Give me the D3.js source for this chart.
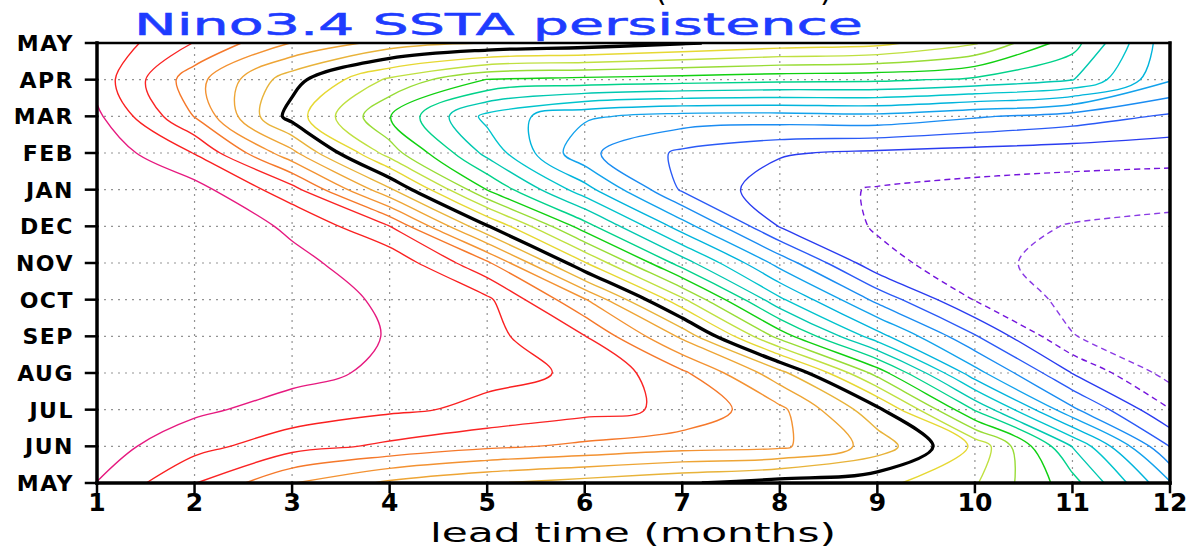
<!DOCTYPE html>
<html>
<head>
<meta charset="utf-8">
<script src="https://cdnjs.cloudflare.com/ajax/libs/d3/7.8.5/d3.min.js"></script>
<style>
  html, body { margin: 0; padding: 0; background: #fff; }
  svg { display: block; }
</style>
</head>
<body>
<svg id="chart" width="1192" height="549"></svg>
<script>
"use strict";

// lead times (x) and start months (y, bottom to top)
const leads = [1, 2, 3, 4, 5, 6, 7, 8, 9, 10, 11, 12];
const monthLabels = ["MAY", "JUN", "JUL", "AUG", "SEP", "OCT", "NOV", "DEC", "JAN", "FEB", "MAR", "APR", "MAY"];

// correlation for each start month, one value per lead time
const corrMayA = [0.849, 0.752, 0.652, 0.59, 0.553, 0.53, 0.505, 0.48, 0.465, 0.405, 0.27, 0.055];
const corrJun = [0.873, 0.817, 0.77, 0.74, 0.71, 0.69, 0.67, 0.66, 0.58, 0.44, 0.198, -0.052];
const corrJul = [0.89, 0.86, 0.83, 0.808, 0.791, 0.766, 0.74, 0.662, 0.515, 0.245, 0.01, -0.148];
const corrAug = [0.89, 0.885, 0.865, 0.84, 0.81, 0.795, 0.71, 0.57, 0.33, 0.069, -0.102, -0.22];
const corrSep = [0.89, 0.885, 0.87, 0.848, 0.815, 0.752, 0.59, 0.33, 0.12, -0.045, -0.198, -0.235];
const corrOct = [0.89, 0.88, 0.865, 0.845, 0.81, 0.655, 0.41, 0.16, -0.015, -0.153, -0.215, -0.24];
const corrNov = [0.885, 0.875, 0.856, 0.837, 0.71, 0.454, 0.225, 0.03, -0.135, -0.176, -0.23, -0.235];
const corrDec = [0.88, 0.868, 0.846, 0.751, 0.505, 0.272, 0.074, -0.103, -0.155, -0.18, -0.203, -0.215];
const corrJan = [0.88, 0.869, 0.77, 0.56, 0.298, 0.12, -0.057, -0.129, -0.154, -0.165, -0.172, -0.176];
const corrFeb = [0.885, 0.798, 0.615, 0.375, 0.185, 0.012, -0.06, -0.095, -0.11, -0.12, -0.127, -0.132];
const corrMar = [0.86, 0.698, 0.478, 0.302, 0.135, 0.058, 0.03, 0.028, 0.035, 0.006, -0.022, -0.058];
const corrApr = [0.83, 0.67, 0.52, 0.39, 0.298, 0.285, 0.275, 0.265, 0.26, 0.24, 0.202, 0.055];
const corrMayB = [0.84, 0.748, 0.648, 0.58, 0.548, 0.53, 0.505, 0.48, 0.465, 0.405, 0.27, 0.065];

const corrRows = [corrMayA, corrJun, corrJul, corrAug, corrSep, corrOct, corrNov,
	corrDec, corrJan, corrFeb, corrMar, corrApr, corrMayB];

// contour levels and their colours
const levels = [0.85, 0.8, 0.75, 0.7, 0.65, 0.6, 0.55, 0.5, 0.45, 0.4, 0.35, 0.3, 0.25,
	0.2, 0.15, 0.1, 0.05, 0, -0.05, -0.1, -0.15, -0.2];
const levelColors = ["#e6197f", "#fa2020", "#fa2424", "#f5782a", "#f39232", "#eea535", "#e8b33a",
	"#000000", "#e6d832", "#bfe040", "#98dc36", "#10d010", "#00d28a", "#00c8b0", "#00c4cc",
	"#00b4dc", "#12a2ec", "#1a8cf2", "#2a5af6", "#2a3cf0", "#7414dc", "#8a3ae4"];
const blackLevel = 0.5;

const svg = d3.select("#chart");

const x = d3.scaleLinear().domain([1, 12]).range([97, 1170]);
const y = d3.scaleLinear().domain([0, 12]).range([483, 43]);

svg.append("defs").append("clipPath").attr("id", "plotClip")
	.append("rect")
	.attr("x", x(1) - 1)
	.attr("y", y(12) - 1)
	.attr("width", x(12) - x(1) + 2)
	.attr("height", y(0) - y(12) + 2);

// dotted grid
let grid = svg.append("g")
	.attr("stroke", "#939393")
	.attr("stroke-width", 1.2)
	.attr("stroke-dasharray", "2,5");
grid.selectAll("line.v").data(leads.slice(1, -1)).join("line")
	.attr("class", "v")
	.attr("x1", d => x(d)).attr("x2", d => x(d))
	.attr("y1", y(0)).attr("y2", y(12));
grid.selectAll("line.h").data(d3.range(1, monthLabels.length - 1)).join("line")
	.attr("class", "h")
	.attr("x1", x(1)).attr("x2", x(12))
	.attr("y1", d => y(d)).attr("y2", d => y(d));

// contours: grid sample i sits at contour coordinate i + 0.5
const values = corrRows.flat();
const contours = d3.contours()
	.size([leads.length, monthLabels.length])
	.thresholds(levels)(values);

const eps = 1e-6;
const inside = p => p[0] >= 1 - eps && p[0] <= 12 + eps && p[1] >= -eps && p[1] <= 12 + eps;

// cut the rings into the open pieces that lie in the plot
function contourRuns(contour) {
	let runs = [];
	for (const polygon of contour.coordinates) {
		for (const ring of polygon) {
			let pts = [];
			for (const [cx, cy] of ring.slice(0, -1)) {
				const p = [cx + 0.5, cy - 0.5];
				const last = pts[pts.length - 1];
				if (!last || Math.abs(last[0] - p[0]) > eps || Math.abs(last[1] - p[1]) > eps) {
					pts.push(p);
				}
			}
			const start = pts.findIndex(p => !inside(p));
			if (start < 0) {
				runs.push({value: contour.value, pts: pts, closed: true});
				continue;
			}
			let cur = [];
			for (let k = 1; k <= pts.length; k++) {
				const p = pts[(start + k) % pts.length];
				if (inside(p)) {
					cur.push(p);
				} else if (cur.length) {
					if (cur.length > 1) runs.push({value: contour.value, pts: cur, closed: false});
					cur = [];
				}
			}
			if (cur.length > 1) runs.push({value: contour.value, pts: cur, closed: false});
		}
	}
	return runs;
}

const openLine = d3.line().x(p => x(p[0])).y(p => y(p[1])).curve(d3.curveCatmullRom.alpha(0.5));
const closedLine = d3.line().x(p => x(p[0])).y(p => y(p[1])).curve(d3.curveCatmullRomClosed.alpha(0.5));
const runPath = r => (r.closed ? closedLine : openLine)(r.pts);

const allRuns = contours.flatMap(contourRuns);

let lines = svg.append("g").attr("clip-path", "url(#plotClip)").attr("fill", "none")
	.attr("stroke-linejoin", "round");
lines.selectAll("path.c").data(allRuns.filter(r => r.value !== blackLevel)).join("path")
	.attr("class", "c")
	.attr("d", runPath)
	.attr("stroke", r => levelColors[levels.indexOf(r.value)])
	.attr("stroke-width", 1.4)
	.attr("stroke-dasharray", r => r.value < -0.12 ? "6,4" : null);
lines.selectAll("path.k").data(allRuns.filter(r => r.value === blackLevel)).join("path")
	.attr("class", "k")
	.attr("d", runPath)
	.attr("stroke", "#000")
	.attr("stroke-width", 3.3);

// frame
let frame = svg.append("g").attr("stroke", "#000").attr("stroke-linecap", "square");
frame.append("line").attr("x1", x(1)).attr("x2", x(12)).attr("y1", y(12)).attr("y2", y(12)).attr("stroke-width", 2.4);
frame.append("line").attr("x1", x(1)).attr("x2", x(12)).attr("y1", y(0)).attr("y2", y(0)).attr("stroke-width", 3.5);
frame.append("line").attr("x1", x(1)).attr("x2", x(1)).attr("y1", y(0)).attr("y2", y(12)).attr("stroke-width", 3.5);
frame.append("line").attr("x1", x(12)).attr("x2", x(12)).attr("y1", y(0)).attr("y2", y(12)).attr("stroke-width", 3.5);

// y ticks and month labels
frame.selectAll("line.yt").data(monthLabels).join("line")
	.attr("class", "yt")
	.attr("x1", x(1) - 11).attr("x2", x(1))
	.attr("y1", (d, i) => y(i)).attr("y2", (d, i) => y(i))
	.attr("stroke-width", 2.5);
svg.append("g").selectAll("text").data(monthLabels).join("text")
	.attr("x", 74)
	.attr("y", (d, i) => y(i) + 8)
	.attr("text-anchor", "end")
	.attr("font-family", "DejaVu Sans")
	.attr("font-weight", "bold")
	.attr("font-size", 22)
	.attr("letter-spacing", 1.5)
	.text(d => d);

// x ticks and labels
frame.selectAll("line.xt").data(leads).join("line")
	.attr("class", "xt")
	.attr("x1", d => x(d)).attr("x2", d => x(d))
	.attr("y1", y(0)).attr("y2", y(0) + 9)
	.attr("stroke-width", 2.5);
svg.append("g").selectAll("text").data(leads).join("text")
	.attr("x", d => x(d))
	.attr("y", 511)
	.attr("text-anchor", "middle")
	.attr("font-family", "DejaVu Sans")
	.attr("font-weight", "bold")
	.attr("font-size", 25)
	.text(d => d);

svg.append("text")
	.attr("x", 430).attr("y", 542)
	.attr("font-family", "DejaVu Sans")
	.attr("font-size", 27)
	.attr("textLength", 406)
	.attr("lengthAdjust", "spacingAndGlyphs")
	.text("lead time (months)");

// title (the line above it is cut off by the page edge)
svg.append("text").attr("x", 655).attr("y", 1)
	.attr("font-family", "DejaVu Sans").attr("font-size", 30).text("(");
svg.append("text").attr("x", 820).attr("y", 1)
	.attr("font-family", "DejaVu Sans").attr("font-size", 30).text(")");
svg.append("text")
	.attr("x", 134).attr("y", 35)
	.attr("font-family", "DejaVu Sans")
	.attr("font-size", 31)
	.attr("fill", "#1e3cff")
	.attr("stroke", "#1e3cff")
	.attr("stroke-width", 0.5)
	.attr("textLength", 729)
	.attr("lengthAdjust", "spacingAndGlyphs")
	.text("Nino3.4  SSTA persistence");
</script>
</body>
</html>
